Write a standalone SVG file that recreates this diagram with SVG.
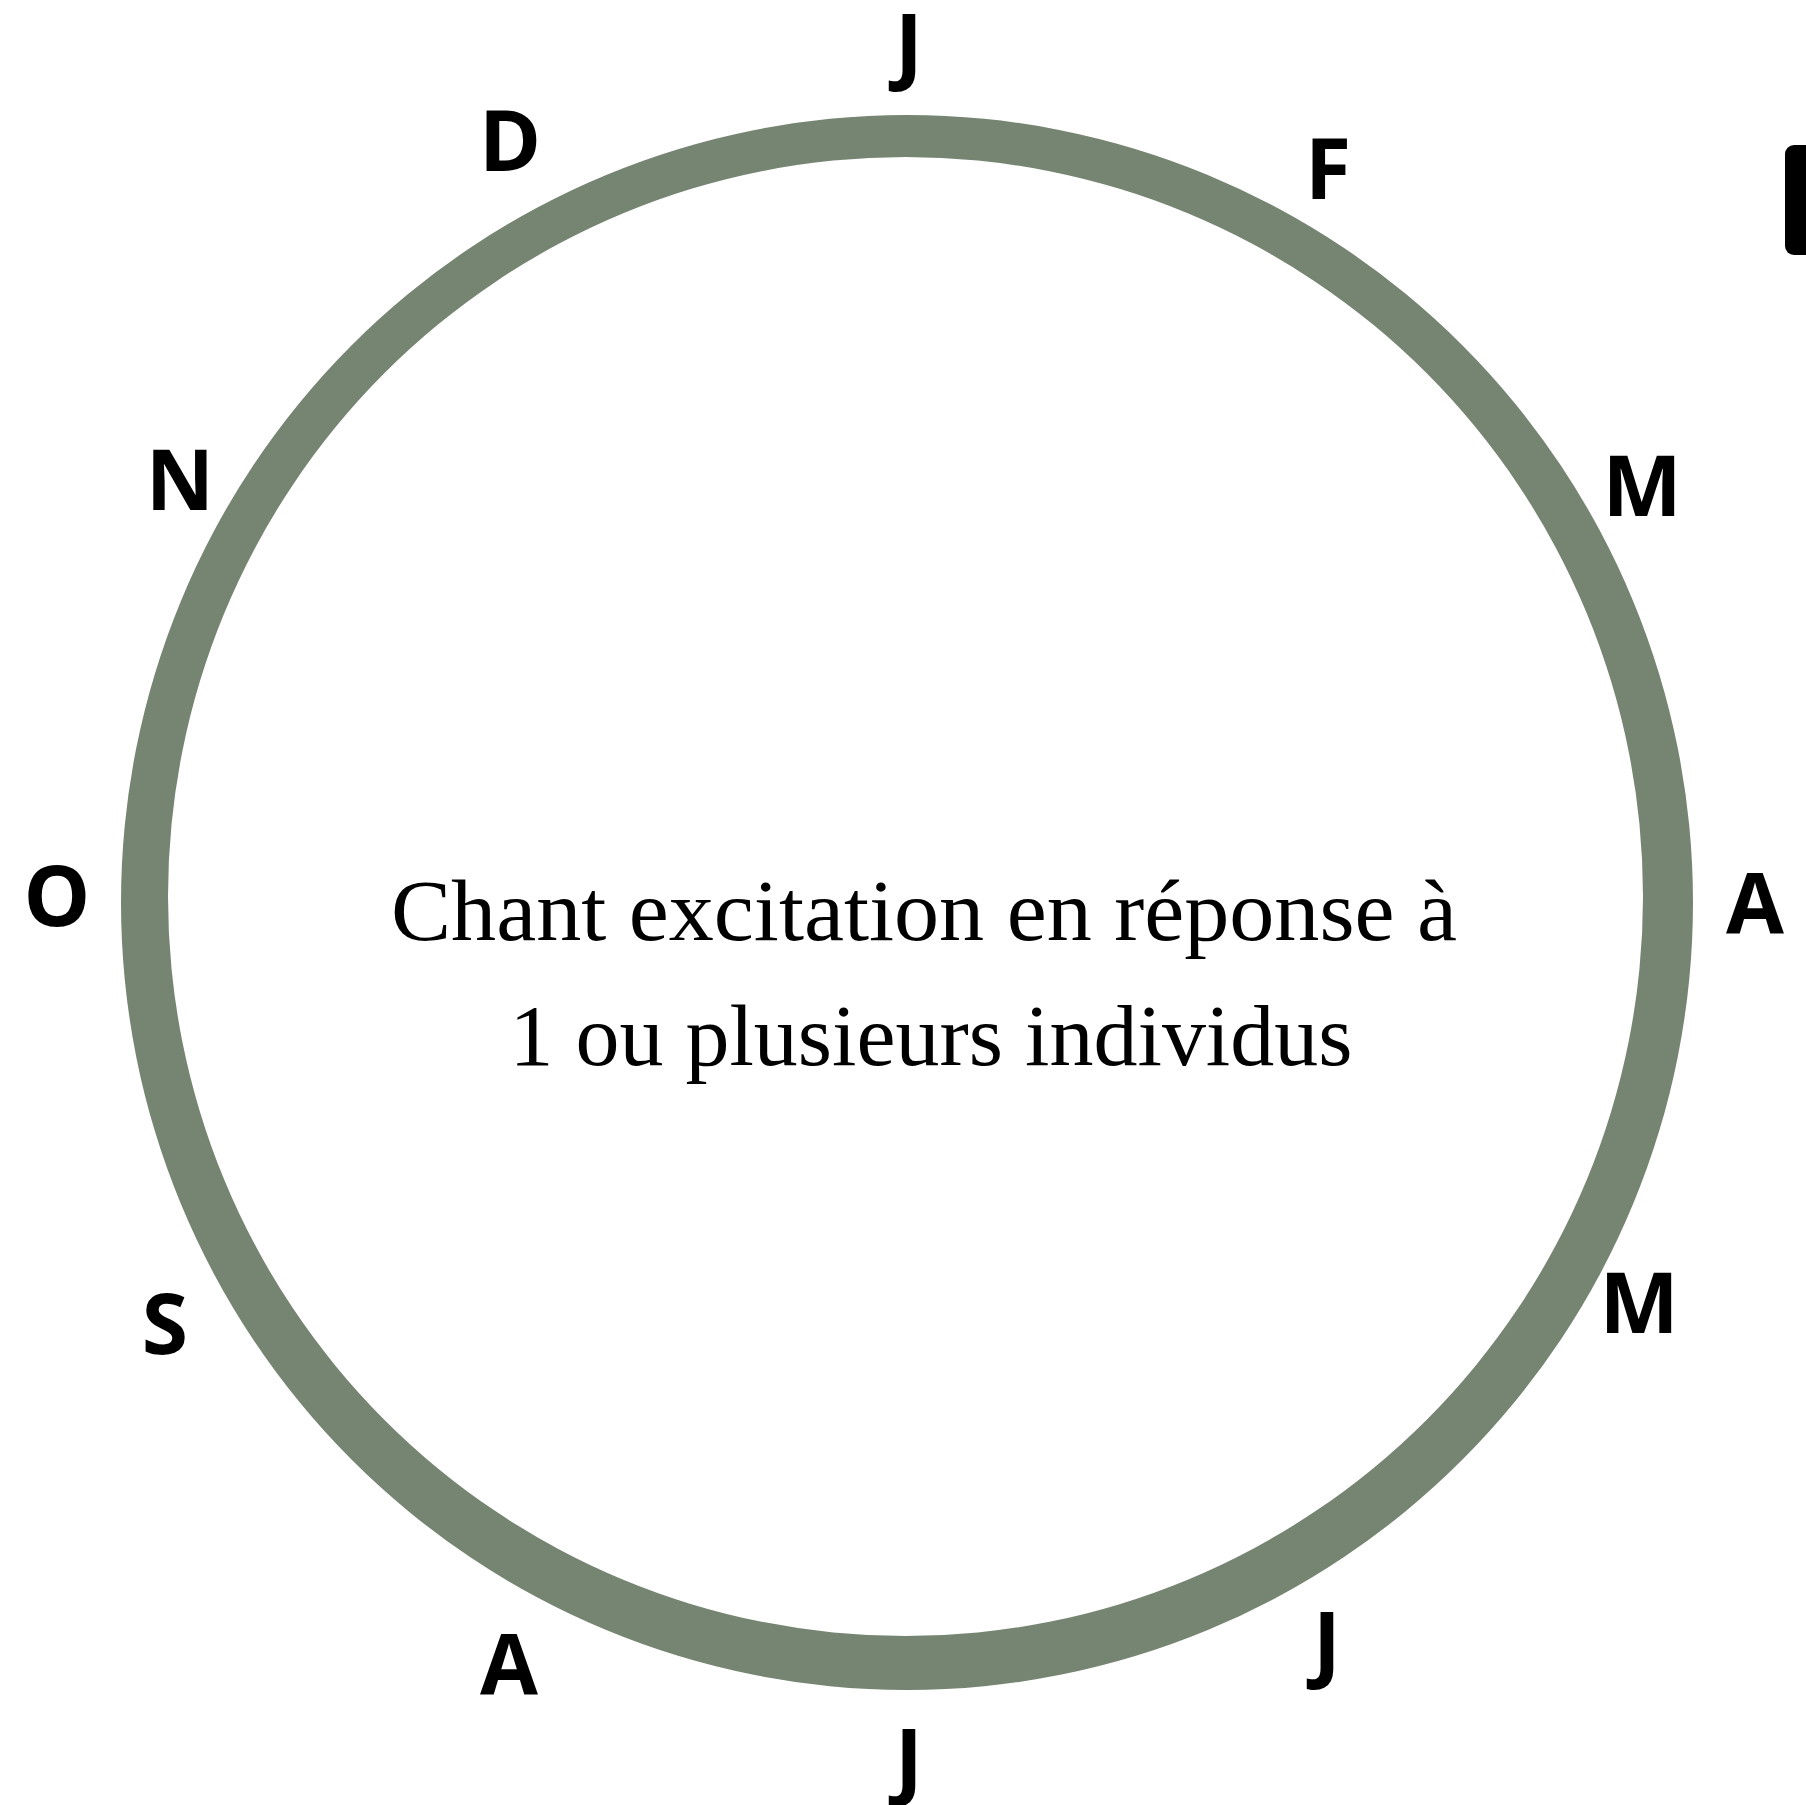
<svg xmlns="http://www.w3.org/2000/svg" width="1806" height="1805" viewBox="0 0 1806 1805">
<style>
.m{font-family:"Open Sans","Noto Sans",sans-serif;font-weight:700;font-size:84px;fill:#000;text-anchor:middle}
.c{font-family:"Liberation Serif","DejaVu Serif",serif;font-size:87px;fill:#000;text-anchor:middle}
</style>
<rect width="1806" height="1805" fill="#fff"/>
<g id="ring">
<path fill="#768472" fill-rule="evenodd" d="M121,902.5 A786,787.5 0 1 0 1693,902.5 A786,787.5 0 1 0 121,902.5 Z M168,896.5 A737.5,739.5 0 1 1 1643,896.5 A737.5,739.5 0 1 1 168,896.5 Z"/>
</g>
<g id="center-label">
<text class="c" x="924" y="940" textLength="1066" lengthAdjust="spacingAndGlyphs">Chant excitation en réponse à</text>
<text class="c" x="931" y="1065" textLength="843" lengthAdjust="spacingAndGlyphs">1 ou plusieurs individus</text>
</g>
<g id="months">
<text class="m" x="909" y="74">J</text>
<text class="m" x="1328" y="199">F</text>
<text class="m" x="1642" y="516">M</text>
<text class="m" x="1755" y="933">A</text>
<text class="m" x="1639" y="1333">M</text>
<text class="m" x="1327" y="1672">J</text>
<text class="m" x="909" y="1789">J</text>
<text class="m" x="509" y="1694">A</text>
<text class="m" x="165" y="1354">S</text>
<text class="m" x="57" y="926">O</text>
<text class="m" x="180" y="510">N</text>
<text class="m" x="510" y="171">D</text>
</g>
<rect x="1785" y="145" width="40" height="110" rx="9" fill="#000"/>
</svg>
